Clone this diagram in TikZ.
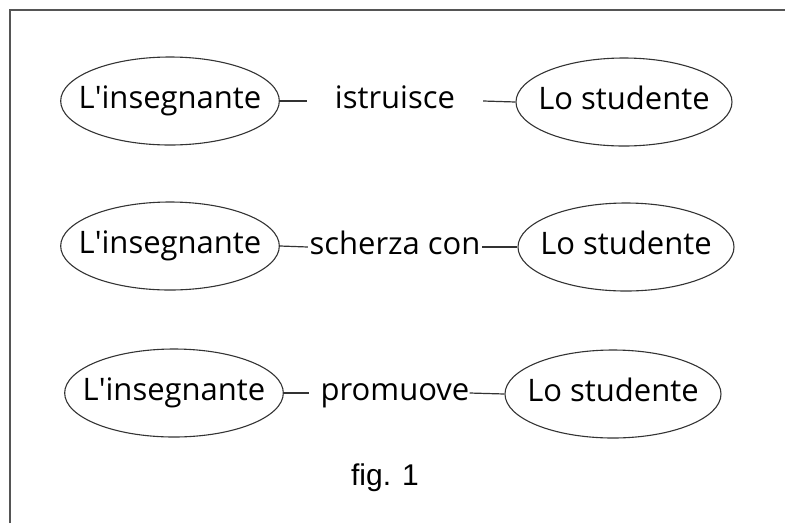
\documentclass[tikz,border=0pt]{standalone}
\usepackage{fontspec}
\setmainfont{Open Sans}
\newfontfamily\capfont{Liberation Sans}
\usetikzlibrary{shapes.geometric}
\definecolor{edge}{HTML}{333333}
\definecolor{frame}{HTML}{555555}
\newcommand{\apo}{\textquotesingle}
\tikzset{concept/.style={
    ellipse,draw=edge,line width=1.1pt,inner ysep=0pt,inner xsep=-14pt,
    minimum width=216pt,minimum height=88pt,
    font=\fontsize{31}{36}\selectfont,text height=23pt,text depth=8pt}}
\tikzset{verb label/.style={
    inner sep=0pt,minimum width=#1,
    font=\fontsize{31}{36}\selectfont,text height=23pt,text depth=8pt}}
\tikzset{link/.style={draw=edge,line width=1.2pt}}
\begin{document}
\begin{tikzpicture}[x=1pt,y=-1pt]
  \path[use as bounding box] (0,0) rectangle (785,523);
  \draw[frame,line width=1.6pt] (10,523) |- (785,10);
  % first row
  \node[concept] (ins1) at (170,101) {L\apo insegnante};
  \node[concept] (stu1) at (624,102) {Lo studente};
  \node[verb label=176pt] (istr) at (395,101) {istruisce};
  \draw[link] (ins1.east) -- (istr.west);
  \draw[link] (istr.east) -- (stu1.west);
  % second row
  \node[concept] (ins2) at (170,246) {L\apo insegnante};
  \node[concept] (stu2) at (626,247) {Lo studente};
  \node[verb label=174pt] (sche) at (395,247) {scherza con};
  \draw[link] (ins2.east) -- (sche.west);
  \draw[link] (sche.east) -- (stu2.west);
  % third row, gap only on the left of the verb
  \node[concept] (ins3) at (174,393) {L\apo insegnante};
  \node[concept] (stu3) at (613,394) {Lo studente};
  \node[verb label=0pt] (prom) at (389.5,393) {\hspace*{11pt}promuove};
  \draw[link] (ins3.east) -- (prom.west);
  \draw[link] (prom.east) -- (stu3.west);
  \node[font=\capfont\fontsize{30}{36}\selectfont,anchor=base] (caption) at (385,485) {fig. 1};
\end{tikzpicture}
\end{document}
